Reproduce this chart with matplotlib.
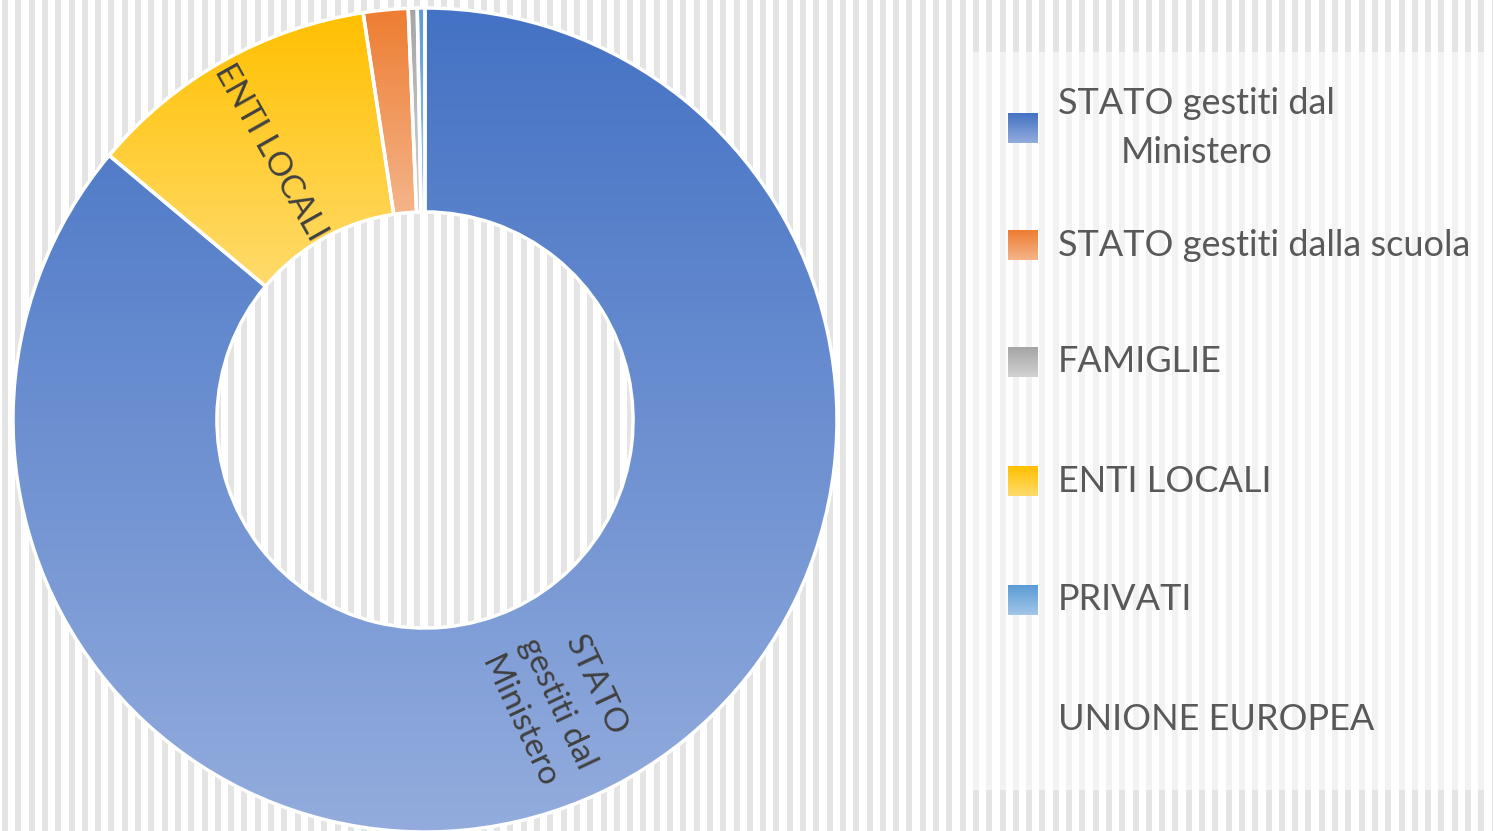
import numpy as np
import matplotlib
matplotlib.use("Agg")
import matplotlib.pyplot as plt
from matplotlib.colors import LinearSegmentedColormap
from matplotlib.patches import Rectangle

plt.rcParams['font.family'] = ['Lato', 'DejaVu Sans']

# legend order (as in the source)
labels = ['STATO gestiti dal\nMinistero', 'STATO gestiti dalla scuola', 'FAMIGLIE',
          'ENTI LOCALI', 'PRIVATI', 'UNIONE EUROPEA']
shares = [86.1, 1.75, 0.35, 11.5, 0.3, 0.0]
top_colors = ['#4472c4', '#ed7d31', '#a5a5a5', '#ffc000', '#5b9bd5', '#ffffff']
bottom_colors = ['#93acdd', '#f5b48a', '#d2d2d2', '#ffdb6c', '#a2c6e8', '#ffffff']
# order of the slices clockwise from 12 o'clock
ring_order = [0, 3, 1, 2, 4]
slice_labels = {0: 'STATO\ngestiti dal\nMinistero', 3: 'ENTI LOCALI'}

W, H = 1493, 831
fig = plt.figure(figsize=(W / 100, H / 100), dpi=100)

# striped background
bg = fig.add_axes([0, 0, 1, 1])
bg.set_xlim(0, W)
bg.set_ylim(0, H)
bg.axis('off')
bg.add_patch(Rectangle((0, 0), W, H, color='white', zorder=0))
for x in np.arange(2, W, 13.3):
    bg.add_patch(Rectangle((x, 0), 6, H, color='#e4e4e4', lw=0, zorder=1))
# legend panel
bg.add_patch(Rectangle((968, H - 790), 522, 738, color='white', alpha=0.55, lw=0, zorder=2))

ax = fig.add_axes([0, 0, 1, 1])
ax.patch.set_alpha(0)
cx, cy, R = 425, H - 420, 412
vals = [shares[i] for i in ring_order]
wedges, _ = ax.pie(vals, startangle=90, counterclock=False, center=(cx, cy), radius=R,
                   wedgeprops=dict(width=R * 0.495, edgecolor='white', linewidth=2.5))
for w, i in zip(wedges, ring_order):
    cmap = LinearSegmentedColormap.from_list('g', [bottom_colors[i], top_colors[i]])
    ext = w.get_path().get_extents()
    grad = np.linspace(0, 1, 256).reshape(-1, 1)
    im = ax.imshow(grad, cmap=cmap, origin='lower', aspect='auto',
                   extent=(ext.x0, ext.x1, ext.y0, ext.y1), zorder=1)
    im.set_clip_path(w)
    w.set_facecolor('none')
    w.set_zorder(2)
    if i in slice_labels:
        mid = np.deg2rad((w.theta1 + w.theta2) / 2)
        r = R * (0.745 if i == 3 else 0.76)
        tx, ty = cx + r * np.cos(mid), cy + r * np.sin(mid)
        rot = np.rad2deg(mid)
        if i == 3:
            rot = rot - 180
            tx -= 4
        ax.text(tx, ty, slice_labels[i], rotation=rot, rotation_mode='anchor',
                ha='center', va='center', multialignment='center',
                fontsize=24, color='#404040', zorder=3, linespacing=1.5)
ax.set_xlim(0, W)
ax.set_ylim(0, H)
ax.set_aspect('equal')
ax.axis('off')

# legend
ys = [128, 245, 362, 481, 600, 719]
for i, (lab, y) in enumerate(zip(labels, ys)):
    if shares[i] > 0:
        cmap = LinearSegmentedColormap.from_list('g', [bottom_colors[i], top_colors[i]])
        grad = np.linspace(0, 1, 64).reshape(-1, 1)
        bg.imshow(grad, cmap=cmap, origin='lower', aspect='auto',
                  extent=(1008, 1038, H - y - 15, H - y + 15), zorder=3)
    bg.text(1058, H - y, lab, ha='left', va='center', multialignment='center',
            fontsize=26, color='#595959', zorder=4, linespacing=1.6)
bg.set_xlim(0, W)
bg.set_ylim(0, H)

fig.savefig('out.png', dpi=100)
